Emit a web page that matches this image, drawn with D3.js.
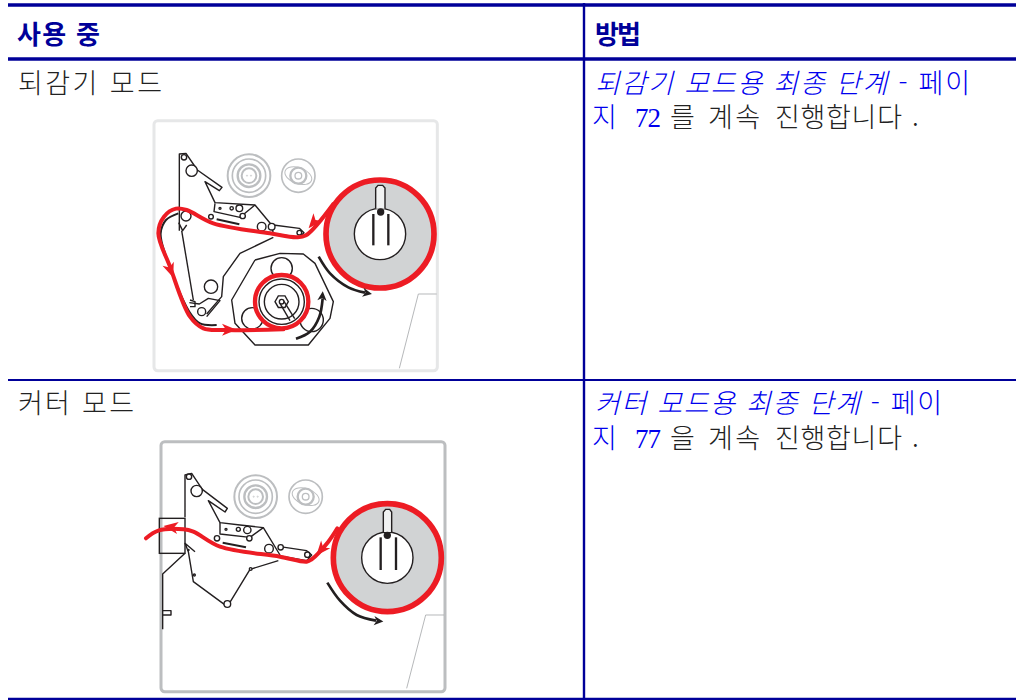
<!DOCTYPE html>
<html lang="ko"><head><meta charset="utf-8">
<script src="https://cdn.jsdelivr.net/npm/d3@7/dist/d3.min.js"></script>
<style>html,body{margin:0;padding:0;background:#fff;overflow:hidden}svg{display:block}</style>
</head><body><svg id="c" width="1016" height="700"></svg>
<script>
// ---- table content ----
const headers = ["사용 중", "방법"];
const modes = ["되감기 모드", "커터 모드"];
const linkTexts = ["되감기 모드용 최종 단계 - 페이", "커터 모드용 최종 단계 - 페이"];
const pageWord = "지";
const pages = ["72", "77"];
const particles = ["를", "을"];
const closingWords = ["계속", "진행합니다", "."];

// ---- diagram shapes, in reference-crop units ----
const d1 = {
  frame:[42,32,892,782],
  roll:[720,372,162,77],
  fork:[[707,296],[707,234],[714,226],[728,226],[735,234],[735,296]],
  forkBlob:[722,306],
  tines:[[[700,312],[700,406]],[[745,312],[745,406]]],
  gauge1:[327,197], gauge2:[475,197],
  thin:[
   [[118,362],[118,132],[138,130],[172,180],[246,232],[238,242],[195,215],[225,278],[345,285],[395,345],[400,372]],
   [[225,280],[222,305],[300,322],[345,285]],
   [[400,345],[478,355],[492,368],[478,382],[400,370]],
   [[400,382],[300,430],[250,500],[245,560],[200,612]],
   [[116,338],[128,362],[140,345]],
   [[125,362],[160,570]],
   [[148,578],[178,582],[205,565],[240,572],[200,620]],
   [[345,450],[420,430],[490,432],[525,460],[580,575],[570,625],[505,705],[345,705],[285,640],[275,570],[345,450]],
   [[150,570],[165,575],[165,590],[150,590]]
  ],
  circles:[[132,142,8],[155,182,17],[213,320,7],[240,295,3],[275,295,5],[298,295,10],[308,318,8],[365,350,13],[395,350,10],[478,368,7],[138,318,15],[213,530,20],[185,605,12],[425,475,32],[337,625,32],[515,630,35]],
  bar:[[230,328],[298,343]],
  under:[[115,310],[78,330],[62,370],[75,430],[148,605],[180,640],[230,645]],
  red:[[580,282],[498,376],[470,382],[390,370],[220,340],[140,300],[108,296],[72,320],[55,370],[90,470],[150,620],[190,655],[250,660],[430,658]],
  redArrows:[[520,338,130],[92,482,70],[268,659,0]],
  core:[425,575,80,68,52],
  hex:[425,575,20,7],
  shaft:[[[420,580],[450,632]],[[432,574],[464,626]]],
  sweep:[
    {pts:[[536,440],[570,490],[625,532],[675,548]],head:[692,551,10]},
    {pts:[[468,686],[510,665],[538,620],[548,565]],head:[548,548,-85]}
  ],
  paper:[[890,552],[835,552],[778,775]]
};
const d2 = {
  frame:[63,35,915,785],
  roll:[742,383,162,77],
  fork:[[730,306],[730,246],[737,238],[749,238],[755,246],[755,306]],
  forkBlob:[742,316],
  tines:[[[722,322],[722,420]],[[768,322],[768,420]]],
  gauge1:[347,200], gauge2:[497,200],
  thin:[
   [[135,262],[135,135],[155,130],[187,178],[262,235],[255,246],[205,212],[240,278],[300,285],[370,293],[420,375]],
   [[240,278],[240,312],[330,322],[370,293]],
   [[420,350],[500,362],[515,375],[500,392],[420,378]],
   [[415,392],[330,418],[262,530],[160,455],[145,365],[135,340],[165,365]],
   [[135,370],[68,432],[68,598]],
   [[68,542],[93,542],[93,555],[68,555]]
  ],
  circles:[[147,140,8],[170,183,17],[231,325,8],[258,298,3],[295,298,6],[322,300,11],[328,325,8],[387,356,13],[422,352,8],[502,374,8],[163,435,3],[332,417,4],[262,522,10],[145,360,2]],
  bar:[[248,338],[318,352]],
  box:[58,265,135,370],
  red:[[18,325],[55,302],[130,298],[160,305],[240,350],[420,380],[500,395],[515,388],[565,335],[592,295]],
  redArrows:[[92,291,188],[543,360,130]],
  sweep:[{pts:[[562,458],[600,512],[650,555],[708,572]],head:[726,574,5]}],
  paper:[[912,555],[857,555],[800,775]]
};
const gaugeGrey = "#bcbec0", ink = "#231f20", web = "#ed1c24", rule = "#000099", link = "#0000ee", body = "#222";

const svg = d3.select("#c");
const font = "'Noto Sans CJK KR','Noto Sans',sans-serif";
const serif = "'Liberation Serif',serif";

// ---- table rules ----
const rules = [[8,1016,5,3.4],[8,1016,59,3.4],[8,1016,380,2.2],[8,1016,699,2.4]];
rules.forEach(r=>svg.append("line").attr("x1",r[0]).attr("x2",r[1]).attr("y1",r[2]).attr("y2",r[2]).attr("stroke",rule).attr("stroke-width",r[3]));
svg.append("line").attr("x1",584).attr("x2",584).attr("y1",3).attr("y2",700).attr("stroke",rule).attr("stroke-width",2.4);

// ---- header and text ----
const headX=[17,595], headLen=[83,46];
headers.forEach((h,i)=>svg.append("text").attr("x",headX[i]).attr("y",44).attr("font-family",font).attr("font-weight",700).attr("font-size",26).attr("fill",rule).attr("textLength",headLen[i]).attr("lengthAdjust","spacing").text(h));

const rowY=[92.5,413], row2Y=[127,447.5], modeLen=[144,116], linkLen=[375,347];
function piece(s,x,y,len,fill,fam,size){
  return svg.append("text").attr("x",x).attr("y",y).attr("font-family",fam||font).attr("font-size",size||27).attr("font-weight",300).attr("fill",fill)
    .attr("textLength",len).attr("lengthAdjust","spacing").text(s);
}
modes.forEach((m,i)=>{
  piece(m,18,rowY[i],modeLen[i],body);
  const t=piece("",595,rowY[i],linkLen[i],link);
  const words=linkTexts[i].split(" - ");
  t.append("tspan").attr("font-style","italic").text(words[0]);
  t.append("tspan").text(" - "+words[1]);
  piece(pageWord,592,row2Y[i],25,link);
  piece(pages[i],635,row2Y[i],26,link,serif,27);
  piece(particles[i],670,row2Y[i],25,body);
  piece(closingWords[0],708,row2Y[i],52,body);
  piece(closingWords[1],775,row2Y[i],127,body);
  piece(closingWords[2],912,row2Y[i],6,body);
});

// ---- diagrams ----
const linear = d3.line().x(d=>d[0]).y(d=>d[1]);
const smooth = d3.line().x(d=>d[0]).y(d=>d[1]).curve(d3.curveCatmullRom.alpha(0.5));

function diagram(d, ox, oy){
  const x=d3.scaleLinear().domain([0,3]).range([ox,ox+1]);
  const y=d3.scaleLinear().domain([0,3]).range([oy,oy+1]);
  const g=svg.append("g").attr("transform",`translate(${x(0)},${y(0)}) scale(${x(1)-x(0)},${y(1)-y(0)})`).attr("fill","none");
  g.append("rect").attr("x",d.frame[0]).attr("y",d.frame[1]).attr("width",d.frame[2]-d.frame[0]).attr("height",d.frame[3]-d.frame[1]).attr("rx",11)
    .attr("stroke",d===d1?"#e6e7e8":"#bcbec0").attr("stroke-width",9);
  g.append("path").attr("d",linear(d.paper)).attr("stroke","#a7a9ac").attr("stroke-width",2.5);

  // gauges
  const gg=g.append("g").attr("stroke",gaugeGrey);
  [[64,6],[50,5],[34,7],[22,6]].forEach(c=>gg.append("circle").attr("cx",d.gauge1[0]).attr("cy",d.gauge1[1]).attr("r",c[0]).attr("stroke-width",c[1]));
  [-6,6].forEach(o=>gg.append("circle").attr("cx",d.gauge1[0]+o).attr("cy",d.gauge1[1]).attr("r",1.8).attr("stroke-width",2));
  [[50,5],[24,7],[10,4]].forEach(c=>gg.append("circle").attr("cx",d.gauge2[0]).attr("cy",d.gauge2[1]).attr("r",c[0]).attr("stroke-width",c[1]));
  gg.append("ellipse").attr("cx",d.gauge2[0]).attr("cy",d.gauge2[1]).attr("rx",42).attr("ry",24).attr("stroke-width",3).attr("transform",`rotate(20 ${d.gauge2[0]} ${d.gauge2[1]})`);

  // machine linework
  d.thin.forEach(p=>g.append("path").attr("d",linear(p)).attr("stroke",ink).attr("stroke-width",4.2).attr("stroke-linejoin","round"));
  d.circles.forEach(c=>g.append("circle").attr("cx",c[0]).attr("cy",c[1]).attr("r",c[2]).attr("fill","#fff").attr("stroke",ink).attr("stroke-width",4.2));
  g.append("path").attr("d",linear(d.bar)).attr("stroke",ink).attr("stroke-width",6);
  if(d.box) g.append("rect").attr("x",d.box[0]).attr("y",d.box[1]).attr("width",d.box[2]-d.box[0]).attr("height",d.box[3]-d.box[1]).attr("stroke",ink).attr("stroke-width",4.2);
  if(d.under) g.append("path").attr("d",smooth(d.under)).attr("stroke",ink).attr("stroke-width",6);

  // core (rewind only)
  if(d.core){
    const [cx,cy,r1,r2,r3]=d.core;
    g.append("circle").attr("cx",cx).attr("cy",cy).attr("r",r1).attr("fill","#fff").attr("stroke",web).attr("stroke-width",13);
    [r2,r3].forEach(r=>g.append("circle").attr("cx",cx).attr("cy",cy).attr("r",r).attr("stroke",ink).attr("stroke-width",4.2));
    const hexPts=d3.range(6).map(k=>[d.hex[0]+d.hex[2]*Math.cos(k*Math.PI/3),d.hex[1]+d.hex[2]*Math.sin(k*Math.PI/3)]);
    g.append("path").attr("d",linear(hexPts)+"Z").attr("fill","#fff").attr("stroke",ink).attr("stroke-width",4.2);
    g.append("circle").attr("cx",d.hex[0]).attr("cy",d.hex[1]).attr("r",d.hex[3]).attr("stroke",ink).attr("stroke-width",4.2);
    d.shaft.forEach(s=>g.append("path").attr("d",linear(s)).attr("stroke",ink).attr("stroke-width",4.2));
  }

  // web
  g.append("path").attr("d",smooth(d.red)).attr("stroke",web).attr("stroke-width",12).attr("stroke-linejoin","round").attr("stroke-linecap","round");
  d.redArrows.forEach(a=>g.append("path").attr("transform",`translate(${a[0]},${a[1]}) rotate(${a[2]})`).attr("d",linear([[22,0],[-22,-18],[-10,0],[-22,18]])+"Z").attr("fill",web));

  // supply roll
  const [rx,ry,R,r]=d.roll;
  g.append("circle").attr("cx",rx).attr("cy",ry).attr("r",R).attr("fill","#d1d3d4").attr("stroke",web).attr("stroke-width",17);
  g.append("circle").attr("cx",rx).attr("cy",ry).attr("r",r).attr("fill","#fff").attr("stroke",ink).attr("stroke-width",4.2);
  g.append("path").attr("d",linear(d.fork)).attr("fill","#f1f2f2").attr("stroke",ink).attr("stroke-width",4.2);
  g.append("circle").attr("cx",d.forkBlob[0]).attr("cy",d.forkBlob[1]).attr("r",11).attr("fill",ink);
  d.tines.forEach(p=>g.append("path").attr("d",linear(p)).attr("stroke",ink).attr("stroke-width",7));

  // motion arrows
  d.sweep.forEach(s=>{
    g.append("path").attr("d",smooth(s.pts)).attr("stroke",ink).attr("stroke-width",8);
    g.append("path").attr("transform",`translate(${s.head[0]},${s.head[1]}) rotate(${s.head[2]})`).attr("d",linear([[4,0],[-24,-14],[-16,0],[-24,14]])+"Z").attr("fill",ink);
  });
}
diagram(d1,140,110);
diagram(d2,140,430);
</script></body></html>
